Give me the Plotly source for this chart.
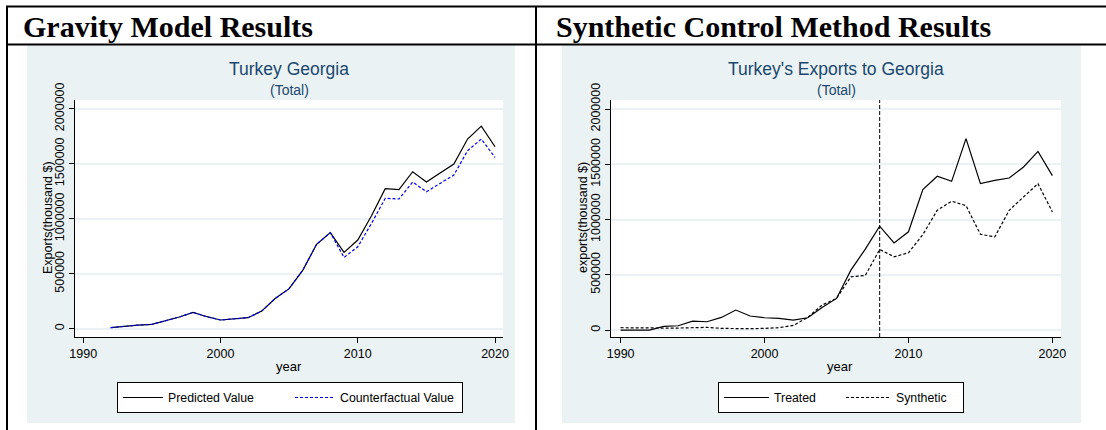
from plotly.subplots import make_subplots
import plotly.graph_objects as go

W, H = 1106, 430

# gravity model (left panel)
gravity_years = list(range(1992, 2021))
predicted_value = [
    9000, 24000, 33000, 39000, 73000, 106000, 148000, 109000, 79000, 91000,
    100000, 160000, 276000, 364000, 533000, 767000, 873000, 694000, 806000, 1027000,
    1273000, 1264000, 1427000, 1333000, 1412000, 1497000, 1724000, 1842000, 1654000
]
counterfactual_value = [
    9000, 24000, 33000, 39000, 73000, 106000, 148000, 109000, 79000, 91000,
    100000, 160000, 276000, 364000, 533000, 767000, 873000, 648000, 745000, 957000,
    1185000, 1179000, 1333000, 1245000, 1321000, 1397000, 1618000, 1724000, 1557000
]

# synthetic control (right panel)
scm_years = list(range(1990, 2021))
treated = [
    0, 0, 0, 33000, 39000, 81000, 75000, 114000, 181000, 127000,
    111000, 105000, 90000, 111000, 205000, 286000, 542000, 732000, 940000, 789000,
    889000, 1271000, 1392000, 1346000, 1732000, 1325000, 1355000, 1376000, 1476000, 1617000,
    1398000
]
synthetic = [
    21000, 18000, 18000, 18000, 18000, 21000, 24000, 15000, 12000, 12000,
    15000, 21000, 42000, 114000, 226000, 286000, 482000, 494000, 729000, 663000,
    699000, 864000, 1084000, 1166000, 1126000, 867000, 843000, 1084000, 1205000, 1325000,
    1069000
]
treatment_year = 2008

y_ticks = [0, 500000, 1000000, 1500000, 2000000]
y_tick_text = ["0", "500000", "1000000", "1500000", "2000000"]
x_ticks = [1990, 2000, 2010, 2020]

NAVY = "#1A476F"
PANEL = "#EAF2F3"
FONT = "Liberation Sans, Arial, sans-serif"
SERIF = "Liberation Serif, Times New Roman, serif"


def px(x):
    return x / W


def py(y):
    return 1 - y / H


fig = make_subplots(rows=1, cols=2)

fig.add_trace(go.Scatter(x=gravity_years, y=predicted_value, name="Predicted Value",
                         mode="lines", line=dict(color="black", width=1.2)), row=1, col=1)
fig.add_trace(go.Scatter(x=gravity_years, y=counterfactual_value, name="Counterfactual Value",
                         mode="lines", line=dict(color="#0000EE", width=1.2, dash="3px,2px")),
              row=1, col=1)
fig.add_trace(go.Scatter(x=scm_years, y=treated, name="Treated", legend="legend2",
                         mode="lines", line=dict(color="black", width=1.2)), row=1, col=2)
fig.add_trace(go.Scatter(x=scm_years, y=synthetic, name="Synthetic", legend="legend2",
                         mode="lines", line=dict(color="black", width=1.2, dash="3px,2px")),
              row=1, col=2)

shapes = []
# grey-blue graph regions, then white plot regions
for x0, x1 in [(27, 515), (562, 1081)]:
    shapes.append(dict(type="rect", xref="paper", yref="paper", x0=px(x0), x1=px(x1),
                       y0=py(423), y1=py(45), fillcolor=PANEL, line=dict(width=0), layer="below"))
for x0, x1 in [(75, 503), (611, 1061)]:
    shapes.append(dict(type="rect", xref="paper", yref="paper", x0=px(x0), x1=px(x1),
                       y0=py(337), y1=py(100), fillcolor="white", line=dict(width=0), layer="below"))
# table borders
for y in [6.5, 44.5]:
    shapes.append(dict(type="line", xref="paper", yref="paper", x0=px(6), x1=1,
                       y0=py(y), y1=py(y), line=dict(color="black", width=2)))
for x in [7, 536]:
    shapes.append(dict(type="line", xref="paper", yref="paper", x0=px(x), x1=px(x),
                       y0=py(6), y1=0, line=dict(color="black", width=2)))
# treatment year
shapes.append(dict(type="line", xref="x2", yref="y2 domain", x0=treatment_year, x1=treatment_year,
                   y0=0, y1=1, line=dict(color="black", width=1, dash="4px,2px")))

annotations = [
    dict(text="<b>Gravity Model Results</b>", x=px(21), y=py(26), xanchor="left",
         font=dict(family=SERIF, size=30, color="black")),
    dict(text="<b>Synthetic Control Method Results</b>", x=px(554), y=py(26), xanchor="left",
         font=dict(family=SERIF, size=30, color="black")),
    dict(text="Turkey Georgia", x=px(289), y=py(69), font=dict(size=17.5, color=NAVY)),
    dict(text="(Total)", x=px(289), y=py(90), font=dict(size=14, color=NAVY)),
    dict(text="Turkey's Exports to Georgia", x=px(836), y=py(69), font=dict(size=17.5, color=NAVY)),
    dict(text="(Total)", x=px(836), y=py(90), font=dict(size=14, color=NAVY)),
    dict(text="year", x=px(289), y=py(366), font=dict(size=13, color="black")),
    dict(text="year", x=px(840), y=py(366), font=dict(size=13, color="black")),
    dict(text="Exports(thousand $)", x=px(48), y=py(218), textangle=-90,
         font=dict(size=12.5, color="black")),
    dict(text="exports(thousand $)", x=px(583), y=py(218), textangle=-90,
         font=dict(size=12.5, color="black")),
]
for a in annotations:
    a.update(xref="paper", yref="paper", showarrow=False)
    a.setdefault("xanchor", "center")
    a.setdefault("yanchor", "middle")

axis_common = dict(showline=True, linecolor="black", linewidth=1.2, ticks="outside",
                   ticklen=5, tickcolor="black", tickfont=dict(size=12.5, color="black"),
                   zeroline=False, automargin=False)

fig.update_xaxes(**axis_common, tickvals=x_ticks, showgrid=False)
fig.update_yaxes(**axis_common, tickvals=y_ticks, ticktext=y_tick_text, tickangle=-90,
                 showgrid=True, gridcolor=PANEL, gridwidth=1.5)

fig.update_layout(
    xaxis=dict(domain=[px(75), px(503)], range=[1989.4, 2020.58]),
    yaxis=dict(domain=[py(337), py(100)], range=[-75500, 2079000]),
    xaxis2=dict(domain=[px(611), px(1061)], range=[1989.33, 2020.6]),
    yaxis2=dict(domain=[py(337), py(100)], range=[-63000, 2082000]),
    width=W,
    height=H,
    margin=dict(l=0, r=0, t=0, b=0),
    paper_bgcolor="white",
    plot_bgcolor="rgba(0,0,0,0)",
    font=dict(family=FONT, size=12, color="black"),
    shapes=shapes,
    annotations=annotations,
    legend=dict(orientation="h", x=px(117), y=py(382), xanchor="left", yanchor="top",
                bgcolor="white", bordercolor="black", borderwidth=1, itemwidth=40,
                entrywidth=117, font=dict(size=12.3, color="black")),
    legend2=dict(orientation="h", x=px(718), y=py(382), xanchor="left", yanchor="top",
                 bgcolor="white", bordercolor="black", borderwidth=1, itemwidth=45,
                 entrywidth=62, font=dict(size=12.3, color="black")),
)

# drop the browser's default body margin so the figure fills the window
fig.write_html("out.html", config={"displayModeBar": False},
               post_script="document.body.style.margin = '0px';")
